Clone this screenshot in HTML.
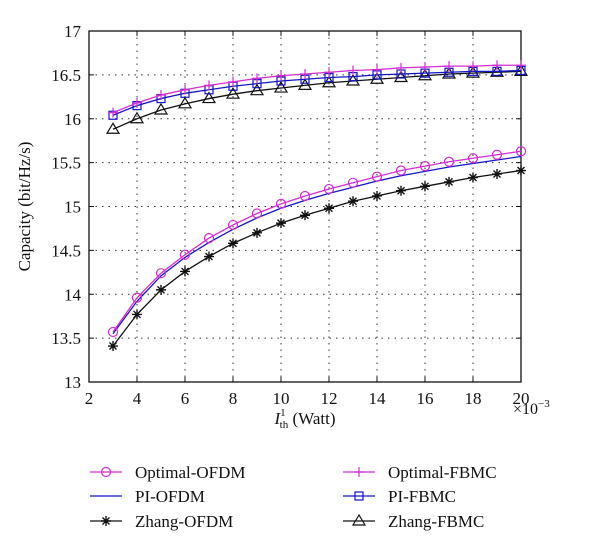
<!DOCTYPE html>
<html><head><meta charset="utf-8"><style>
body{margin:0;background:#fff;}
svg text{font-family:"Liberation Serif",serif;fill:#111;}
</style></head><body>
<svg id="chart" width="600" height="554" xmlns="http://www.w3.org/2000/svg"></svg>
<script>
const xVals=[3,4,5,6,7,8,9,10,11,12,13,14,15,16,17,18,19,20];
const optFBMC=[16.07,16.18,16.27,16.33,16.38,16.42,16.46,16.49,16.51,16.53,16.55,16.56,16.58,16.59,16.60,16.60,16.61,16.61];
const piFBMC=[16.04,16.15,16.23,16.29,16.33,16.37,16.40,16.43,16.45,16.47,16.48,16.50,16.51,16.52,16.53,16.54,16.54,16.55];
const zhangFBMC=[15.88,16.00,16.10,16.17,16.23,16.28,16.32,16.35,16.38,16.41,16.43,16.45,16.47,16.49,16.51,16.52,16.53,16.54];
const optOFDM=[13.57,13.96,14.24,14.45,14.64,14.79,14.92,15.03,15.12,15.20,15.27,15.34,15.41,15.46,15.51,15.55,15.59,15.63];
const piOFDM=[13.55,13.92,14.21,14.42,14.59,14.74,14.87,14.98,15.07,15.15,15.22,15.29,15.35,15.40,15.45,15.49,15.53,15.57];
const zhangOFDM=[13.41,13.77,14.05,14.26,14.43,14.58,14.70,14.81,14.90,14.98,15.06,15.12,15.18,15.23,15.28,15.33,15.37,15.41];
const xTicks=[2,4,6,8,10,12,14,16,18,20];
const yTicks=[13,13.5,14,14.5,15,15.5,16,16.5,17];

const L=89,R=521,T=31,B=382;
const sx=v=>L+(v-2)/18*(R-L);
const sy=v=>B-(v-13)/4*(B-T);
const svg=document.getElementById('chart');
const NS='http://www.w3.org/2000/svg';
function mk(tag,attrs,parent){const e=document.createElementNS(NS,tag);for(const k in attrs)e.setAttribute(k,attrs[k]);(parent||svg).appendChild(e);return e;}

// grid
xTicks.forEach(t=>{if(t>2&&t<20){const g=mk('line',{x1:sx(t),x2:sx(t),y1:T,y2:B,stroke:'#333','stroke-width':1,'stroke-dasharray':'1.5,5'});

}});
yTicks.forEach(t=>{if(t>13&&t<17){const g=mk('line',{x1:L,x2:R,y1:sy(t),y2:sy(t),stroke:'#333','stroke-width':1,'stroke-dasharray':'1.5,5'});

}});
// ticks & labels
xTicks.forEach(t=>{
 mk('line',{x1:sx(t),x2:sx(t),y1:B,y2:B-5,stroke:'#111'});
 mk('line',{x1:sx(t),x2:sx(t),y1:T,y2:T+5,stroke:'#111'});
 const tx=mk('text',{x:sx(t),y:B+22,'text-anchor':'middle','font-size':17});tx.textContent=t;
 
 
});
yTicks.forEach(t=>{
 mk('line',{x1:L,x2:L+5,y1:sy(t),y2:sy(t),stroke:'#111'});
 mk('line',{x1:R,x2:R-5,y1:sy(t),y2:sy(t),stroke:'#111'});
 const tx=mk('text',{x:L-8,y:sy(t)+6,'text-anchor':'end','font-size':17});tx.textContent=t;
 
 
});
const frame=mk('rect',{x:L,y:T,width:R-L,height:B-T,fill:'none',stroke:'#111','stroke-width':1.3});



const MAG='#d52cd5',BLU='#1515c8',BLK='#111';
function marker(type,x,y,color,g){
 if(type==='circle')mk('circle',{cx:x,cy:y,r:4.5,fill:'none',stroke:color,'stroke-width':1.2},g);
 else if(type==='plus'){mk('path',{d:`M${x-5} ${y}H${x+5}M${x} ${y-5}V${y+5}`,stroke:color,'stroke-width':1.2},g);}
 else if(type==='square')mk('rect',{x:x-4,y:y-4,width:8,height:8,fill:'none',stroke:color,'stroke-width':1.2},g);
 else if(type==='star'){mk('path',{d:`M${x-5} ${y}H${x+5}M${x} ${y-5}V${y+5}M${x-3.5} ${y-3.5}L${x+3.5} ${y+3.5}M${x-3.5} ${y+3.5}L${x+3.5} ${y-3.5}`,stroke:color,'stroke-width':1.4},g);}
 else if(type==='tri')mk('path',{d:`M${x} ${y-6}L${x+6} ${y+4}L${x-6} ${y+4}Z`,fill:'none',stroke:color,'stroke-width':1.2},g);
}
const series=[
 {name:'zhang-ofdm',vals:zhangOFDM,c:BLK,m:'star'},
 {name:'pi-ofdm',vals:piOFDM,c:BLU,m:null},
 {name:'optimal-ofdm',vals:optOFDM,c:MAG,m:'circle'},
 {name:'zhang-fbmc',vals:zhangFBMC,c:BLK,m:'tri'},
 {name:'pi-fbmc',vals:piFBMC,c:BLU,m:'square'},
 {name:'optimal-fbmc',vals:optFBMC,c:MAG,m:'plus'}
];
series.forEach(s=>{
 const g=mk('g',{});
 
 
 const p=mk('polyline',{points:xVals.map((x,i)=>sx(x)+','+sy(s.vals[i])).join(' '),fill:'none',stroke:s.c,'stroke-width':1.3},g);
 
 
 if(s.m)xVals.forEach((x,i)=>marker(s.m,sx(x),sy(s.vals[i]),s.c,g));
});

// axis titles
const yt=mk('text',{x:0,y:0,'text-anchor':'middle','font-size':17,transform:`translate(30,${(T+B)/2}) rotate(-90)`});
yt.textContent='Capacity (bit/Hz/s)';


const xt=mk('text',{x:305,y:424,'text-anchor':'middle','font-size':17});
xt.innerHTML='<tspan font-style="italic">I</tspan><tspan font-size="11" dy="-8">1</tspan><tspan font-size="11" dx="-6" dy="12">th</tspan><tspan dy="-4"> (Watt)</tspan>';


const ex=mk('text',{x:513,y:414,'font-size':16});
ex.innerHTML='×10<tspan font-size="11" dy="-7">−3</tspan>';



// legend
const legend=[
 {label:'Optimal-OFDM',c:MAG,m:'circle',x:90,y:472},
 {label:'PI-OFDM',c:BLU,m:null,x:90,y:496},
 {label:'Zhang-OFDM',c:BLK,m:'star',x:90,y:521},
 {label:'Optimal-FBMC',c:MAG,m:'plus',x:343,y:472},
 {label:'PI-FBMC',c:BLU,m:'square',x:343,y:496},
 {label:'Zhang-FBMC',c:BLK,m:'tri',x:343,y:521}
];
legend.forEach(e=>{
 const g=mk('g',{});
 
 
 mk('line',{x1:e.x,x2:e.x+32,y1:e.y,y2:e.y,stroke:e.c,'stroke-width':1.3},g);
 if(e.m)marker(e.m,e.x+16,e.y,e.c,g);
 const t=mk('text',{x:e.x+45,y:e.y+6,'font-size':17},g);t.textContent=e.label;
});
</script>
</body></html>
